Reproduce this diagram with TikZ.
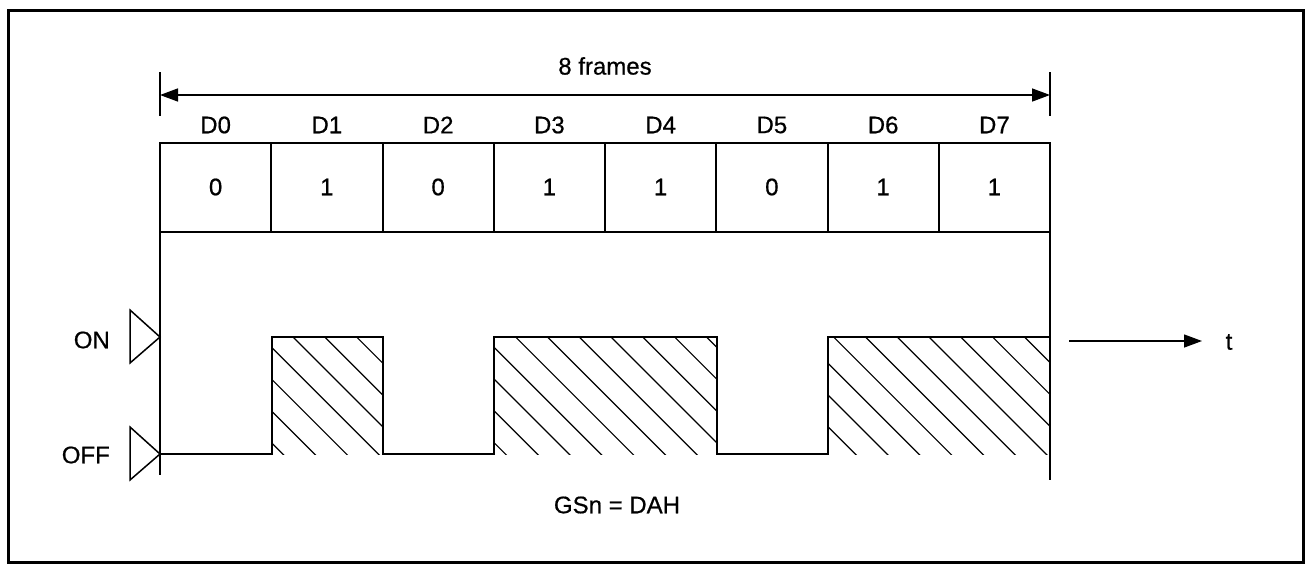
\documentclass[tikz,border=0pt]{standalone}
\usepackage{fontspec}
\setmainfont{Liberation Sans}[FakeBold=0.6]
\usetikzlibrary{arrows.meta}
\begin{document}
\begin{tikzpicture}[x=1pt,y=-1pt,
  lbl/.style={inner sep=0pt,font=\fontsize{24}{28}\selectfont},
  thick line/.style={line width=2pt},
  hatchline/.style={line width=1.2pt},
  tip/.style={-{Triangle[length=18pt,width=13pt]}}]
\useasboundingbox (0,0) rectangle (1305,565);
% outer frame
\draw[line width=3pt] (8,10) rectangle (1303,562);
% dimension arrow
\coordinate (tl1) at (160,72);
\coordinate (tl2) at (160,116);
\coordinate (tr1) at (1050,72);
\coordinate (tr2) at (1050,116);
\draw[line width=1.5pt] (tl1) -- (tl2);
\draw[line width=1.5pt] (tr1) -- (tr2);
\coordinate (al) at (160,95);
\coordinate (ar) at (1050,95);
\draw[line width=1.5pt,{Triangle[length=18pt,width=13pt]}-{Triangle[length=18pt,width=13pt]}] (al) -- (ar);
\node[lbl] (frames) at (605,66) {8 frames};
% cells
\foreach \i/\v in {0/0,1/1,2/0,3/1,4/1,5/0,6/1,7/1}{
  \pgfmathsetmacro{\xa}{160+111.25*\i}
  \pgfmathsetmacro{\xb}{160+111.25*(\i+1)}
  \pgfmathsetmacro{\xc}{160+111.25*(\i+0.5)}
  \draw[thick line] (\xa,143) rectangle (\xb,232);
  \node[lbl] (d\i) at (\xc,125) {D\i};
  \node[lbl] (v\i) at (\xc,187) {\v};
}
% vertical guide lines
\coordinate (gl1) at (160,232);
\coordinate (gl2) at (160,475);
\coordinate (gr1) at (1050,232);
\coordinate (gr2) at (1050,480);
\draw[line width=1.5pt] (gl1) -- (gl2);
\draw[line width=1.5pt] (gr1) -- (gr2);
% level markers
\draw[line width=1.5pt] (130,310) -- (160,337) -- (130,363) -- cycle;
\draw[line width=1.5pt] (130,427) -- (160,454) -- (130,480) -- cycle;
\node[lbl,anchor=east] (on) at (110,340) {ON};
\node[lbl,anchor=east] (off) at (110,455) {OFF};
% hatching
\foreach \xa/\xb in {272/383,494/717,828/1050}{
  \begin{scope}
  \clip (\xa,337) rectangle (\xb,454);
  \foreach \k in {-8,...,30}{
    \pgfmathsetmacro{\c}{-44+31.8*\k}
    \draw[hatchline] (\c+300,300) -- (\c+500,500);
  }
  \end{scope}
}
% signal
\draw[thick line,line join=miter] (160,454) -- (272,454) -- (272,337) -- (383,337) -- (383,454)
  -- (494,454) -- (494,337) -- (717,337) -- (717,454) -- (828,454) -- (828,337) -- (1050,337);
% time arrow
\coordinate (ta) at (1069,341);
\node[lbl] (t) at (1229,342) {t};
\draw[line width=1.3pt,tip] (ta) -- (1202,341);
\node[lbl] (gsn) at (617,505) {GSn = DAH};
\end{tikzpicture}
\end{document}
